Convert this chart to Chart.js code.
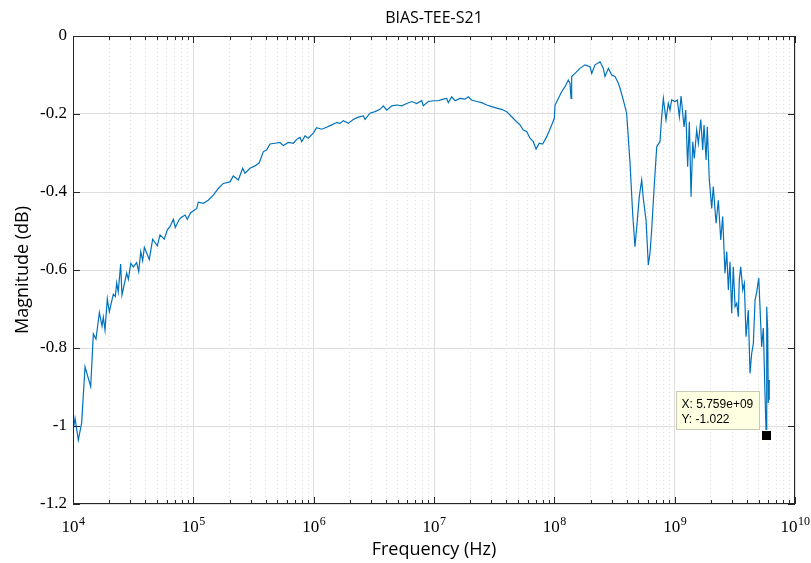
<!DOCTYPE html>
<html>
<head>
<meta charset="utf-8">
<script src="https://cdn.jsdelivr.net/npm/chart.js@4.4.1/dist/chart.umd.min.js"></script>
<style>
  body { margin: 0; background: #fff; }
  #chart { display: block; }
</style>
</head>
<body>
<canvas id="chart" width="811" height="563"></canvas>
<script>
// frequency (Hz) and |S21| (dB)
var freqHz = [
  1.005e4, 1.04e4, 1.107e4, 1.18e4, 1.259e4, 1.403e4, 1.476e4, 1.552e4, 1.656e4, 1.742e4,
  1.786e4, 1.845e4, 1.928e4, 2.004e4, 2.163e4, 2.249e4, 2.307e4, 2.377e4, 2.489e4, 2.553e4,
  2.793e4, 2.884e4, 3.02e4, 3.17e4, 3.381e4, 3.516e4, 3.656e4, 3.793e4, 3.917e4, 4.305e4,
  4.592e4, 5.023e4, 5.284e4, 5.741e4, 6.081e4, 6.397e4, 6.823e4, 7.079e4, 7.638e4, 7.998e4,
  8.531e4, 8.913e4, 9.506e4, 1.067e5, 1.099e5, 1.211e5, 1.33e5, 1.466e5, 1.614e5, 1.774e5,
  2.018e5, 2.148e5, 2.366e5, 2.57e5, 2.685e5, 2.958e5, 3.251e5, 3.532e5, 3.811e5, 4.074e5,
  4.335e5, 4.775e5, 5.248e5, 5.598e5, 6.152e5, 6.776e5, 7.228e5, 7.691e5, 7.962e5, 8.472e5,
  9.016e5, 9.931e5, 1.059e6, 1.167e6, 1.282e6, 1.413e6, 1.552e6, 1.656e6, 1.762e6, 1.941e6,
  2.133e6, 2.35e6, 2.588e6, 2.673e6, 2.938e6, 3.236e6, 3.556e6, 3.793e6, 4.046e6, 4.457e6,
  4.898e6, 5.395e6, 5.929e6, 6.531e6, 7.178e6, 7.907e6, 8.147e6, 8.974e6, 9.863e6, 1.086e7,
  1.194e7, 1.276e7, 1.315e7, 1.403e7, 1.496e7, 1.644e7, 1.811e7, 1.928e7, 2.056e7, 2.265e7,
  2.489e7, 2.742e7, 3.02e7, 3.319e7, 3.656e7, 4.018e7, 4.426e7, 4.864e7, 5.188e7, 5.521e7,
  5.888e7, 6.281e7, 6.683e7, 7.047e7, 7.499e7, 7.998e7, 8.65e7, 9.506e7, 1.0e8, 1.014e8,
  1.079e8, 1.151e8, 1.227e8, 1.306e8, 1.349e8, 1.377e8, 1.393e8, 1.486e8, 1.633e8, 1.799e8,
  1.982e8, 2.046e8, 2.178e8, 2.399e8, 2.553e8, 2.636e8, 2.812e8, 2.999e8, 3.192e8, 3.404e8,
  3.516e8, 3.741e8, 3.99e8, 4.256e8, 4.477e8, 4.677e8, 4.842e8, 5.082e8, 5.321e8, 5.483e8,
  5.781e8, 6.039e8, 6.237e8, 6.442e8, 6.73e8, 7.096e8, 7.551e8, 7.798e8, 8.054e8, 8.472e8,
  8.851e8, 9.141e8, 9.441e8, 1.007e9, 1.052e9, 1.094e9, 1.13e9, 1.197e9, 1.236e9, 1.282e9,
  1.324e9, 1.368e9, 1.413e9, 1.455e9, 1.524e9, 1.574e9, 1.648e9, 1.71e9, 1.754e9, 1.824e9,
  1.866e9, 1.941e9, 2.032e9, 2.094e9, 2.208e9, 2.307e9, 2.415e9, 2.506e9, 2.618e9, 2.71e9,
  2.793e9, 2.884e9, 2.979e9, 3.069e9, 3.177e9, 3.281e9, 3.381e9, 3.443e9, 3.54e9, 3.681e9,
  3.793e9, 3.917e9, 4.093e9, 4.227e9, 4.365e9, 4.508e9, 4.656e9, 4.808e9, 5.0e9, 5.117e9,
  5.284e9, 5.458e9, 5.61e9, 5.759e9, 5.821e9, 5.929e9, 5.998e9, 6.081e9, 6.109e9
]

var magDb = [
  -1.010, -0.980, -1.036, -0.992, -0.848, -0.899, -0.764, -0.777, -0.709, -0.744,
  -0.721, -0.754, -0.674, -0.707, -0.662, -0.668, -0.633, -0.656, -0.585, -0.664,
  -0.608, -0.624, -0.583, -0.592, -0.581, -0.604, -0.553, -0.576, -0.542, -0.573,
  -0.521, -0.538, -0.510, -0.521, -0.497, -0.489, -0.470, -0.491, -0.470, -0.465,
  -0.459, -0.470, -0.453, -0.442, -0.426, -0.429, -0.421, -0.408, -0.391, -0.378,
  -0.374, -0.359, -0.369, -0.339, -0.352, -0.339, -0.333, -0.325, -0.297, -0.292,
  -0.277, -0.275, -0.273, -0.281, -0.273, -0.275, -0.265, -0.260, -0.271, -0.256,
  -0.262, -0.249, -0.235, -0.239, -0.234, -0.228, -0.222, -0.224, -0.217, -0.224,
  -0.214, -0.208, -0.205, -0.214, -0.198, -0.194, -0.188, -0.179, -0.190, -0.179,
  -0.177, -0.179, -0.173, -0.168, -0.173, -0.166, -0.179, -0.168, -0.166, -0.166,
  -0.162, -0.160, -0.171, -0.156, -0.166, -0.160, -0.162, -0.156, -0.164, -0.168,
  -0.171, -0.177, -0.181, -0.185, -0.188, -0.194, -0.207, -0.220, -0.228, -0.241,
  -0.245, -0.262, -0.271, -0.290, -0.275, -0.277, -0.258, -0.228, -0.211, -0.177,
  -0.160, -0.143, -0.130, -0.113, -0.121, -0.160, -0.104, -0.096, -0.083, -0.074,
  -0.079, -0.096, -0.074, -0.066, -0.083, -0.104, -0.083, -0.100, -0.104, -0.121,
  -0.134, -0.164, -0.198, -0.326, -0.455, -0.540, -0.489, -0.412, -0.369, -0.416,
  -0.472, -0.587, -0.557, -0.497, -0.395, -0.284, -0.271, -0.207, -0.160, -0.215,
  -0.173, -0.190, -0.164, -0.168, -0.164, -0.207, -0.154, -0.233, -0.190, -0.335,
  -0.220, -0.412, -0.271, -0.314, -0.241, -0.275, -0.214, -0.292, -0.228, -0.318,
  -0.233, -0.369, -0.442, -0.386, -0.480, -0.421, -0.523, -0.463, -0.608, -0.553,
  -0.651, -0.579, -0.711, -0.592, -0.694, -0.685, -0.720, -0.626, -0.592, -0.651,
  -0.634, -0.771, -0.703, -0.865, -0.814, -0.788, -0.677, -0.656, -0.621, -0.694,
  -0.797, -0.749, -0.899, -1.022, -0.694, -0.754, -0.941, -0.882, -0.933
]

var xMajorTicks = [1e4, 1e5, 1e6, 1e7, 1e8, 1e9, 1e10]
var xTickBase = '10'
var xTickExp = ['4', '5', '6', '7', '8', '9', '10']
var yTicks = [0, -0.2, -0.4, -0.6, -0.8, -1, -1.2]
var yTickLabels = ['0', '-0.2', '-0.4', '-0.6', '-0.8', '-1', '-1.2']
var titleText = 'BIAS-TEE-S21'

// data tip
var tipX = 5.759e9
var tipY = -1.022
var tipLines = ['X: 5.759e+09', 'Y: -1.022']

var xMinorTicks = []
for (var d = 0; d < xMajorTicks.length - 1; d++) {
    for (var m = 2; m <= 9; m++) xMinorTicks.push(xMajorTicks[d] * m)
}

var points = []
for (var i = 0; i < freqHz.length; i++) {
    points.push({x: freqHz[i], y: magDb[i]})
}

var axisColor = '#262626'
var serif = '"Liberation Serif", "DejaVu Serif", serif'
var sans = '"Open Sans", "Noto Sans", sans-serif'

// MATLAB look: inward ticks, box, 10^n labels, title over the axes, data tip
var matlabAxes = {
    id: 'matlabAxes',
    afterDraw: function(chart) {
        var ctx = chart.ctx
        var a = chart.chartArea
        var xs = chart.scales.x
        var ys = chart.scales.y
        ctx.save()
        ctx.strokeStyle = axisColor
        ctx.lineWidth = 1
        ctx.beginPath()
        xMajorTicks.forEach(function(v) {
            var px = Math.round(xs.getPixelForValue(v)) + 0.5
            ctx.moveTo(px, a.bottom); ctx.lineTo(px, a.bottom - 7)
            ctx.moveTo(px, a.top); ctx.lineTo(px, a.top + 7)
        })
        xMinorTicks.forEach(function(v) {
            var px = Math.round(xs.getPixelForValue(v)) + 0.5
            ctx.moveTo(px, a.bottom); ctx.lineTo(px, a.bottom - 4)
            ctx.moveTo(px, a.top); ctx.lineTo(px, a.top + 4)
        })
        yTicks.forEach(function(v) {
            var py = Math.round(ys.getPixelForValue(v)) + 0.5
            ctx.moveTo(a.left, py); ctx.lineTo(a.left + 7, py)
            ctx.moveTo(a.right, py); ctx.lineTo(a.right - 7, py)
        })
        ctx.stroke()
        ctx.strokeRect(Math.round(a.left) + 0.5, Math.round(a.top) + 0.5,
                       Math.round(a.width) - 1, Math.round(a.height) - 1)

        // x tick labels 10^n
        ctx.fillStyle = '#000'
        ctx.textBaseline = 'alphabetic'
        ctx.textAlign = 'left'
        xMajorTicks.forEach(function(v, k) {
            var px = xs.getPixelForValue(v)
            ctx.font = '17px ' + serif
            var wb = ctx.measureText(xTickBase).width
            ctx.font = '12px ' + serif
            var we = ctx.measureText(xTickExp[k]).width
            var x0 = px - (wb + we) / 2
            ctx.font = '17px ' + serif
            ctx.fillText(xTickBase, x0, a.bottom + 28)
            ctx.font = '12px ' + serif
            ctx.fillText(xTickExp[k], x0 + wb + 0.5, a.bottom + 21)
        })

        // title centred over the axes
        ctx.font = '16px ' + sans
        ctx.textAlign = 'center'
        ctx.fillText(titleText, (a.left + a.right) / 2, 23)

        // data tip
        ctx.textAlign = 'left'
        var mx = xs.getPixelForValue(tipX)
        var my = ys.getPixelForValue(tipY)
        var bw = 83, bh = 38
        var bx = Math.round(mx - 7 - bw) + 0.5
        var by = Math.round(my - 6 - bh) + 0.5
        ctx.fillStyle = '#ffffe1'
        ctx.fillRect(bx, by, bw, bh)
        ctx.strokeStyle = '#c8c8b4'
        ctx.strokeRect(bx, by, bw, bh)
        ctx.fillStyle = '#000'
        ctx.font = '12px "Liberation Sans", Arial, sans-serif'
        ctx.fillText(tipLines[0], bx + 5, by + 16)
        ctx.fillText(tipLines[1], bx + 5, by + 31)
        ctx.fillRect(Math.round(mx) - 4, Math.round(my) - 4, 9, 9)
        ctx.strokeStyle = '#fffff0'
        ctx.strokeRect(Math.round(mx) - 4.5, Math.round(my) - 4.5, 10, 10)
        ctx.restore()
    }
}

var myChart = new Chart(document.getElementById('chart'), {
    type: 'line',
    data: {
        datasets: [{
            label: 'S21',
            data: points,
            borderColor: '#0072BD',
            borderWidth: 1.2,
            pointRadius: 0,
            tension: 0,
            fill: false,
            xAxisID: 'x',
            yAxisID: 'y'
        }]
    },
    options: {
        responsive: false,
        animation: false,
        devicePixelRatio: 1,
        layout: { padding: { top: 36, right: 16, bottom: 0, left: 0 } },
        plugins: {
            legend: { display: false },
            tooltip: { enabled: false },
            title: { display: false }
        },
        scales: {
            xm: {
                type: 'logarithmic',
                position: 'bottom',
                min: 1e4,
                max: 1e10,
                afterBuildTicks: function(scale) {
                    scale.ticks = xMinorTicks.map(function(v) { return {value: v} })
                },
                afterFit: function(scale) { scale.height = 0 },
                ticks: { display: false },
                border: { display: false, dash: [1, 3] },
                grid: { color: '#dcdcdc', lineWidth: 1, drawTicks: false }
            },
            x: {
                type: 'logarithmic',
                position: 'bottom',
                min: 1e4,
                max: 1e10,
                afterBuildTicks: function(scale) {
                    scale.ticks = xMajorTicks.map(function(v) { return {value: v} })
                },
                afterFit: function(scale) { scale.height = 59 },
                ticks: { display: false },
                border: { display: false },
                grid: { color: '#dedede', lineWidth: 1, drawTicks: false },
                title: {
                    display: true,
                    text: 'Frequency (Hz)',
                    color: '#000',
                    font: { family: sans, size: 18 },
                    padding: { top: 0, bottom: 2 }
                }
            },
            y: {
                type: 'linear',
                min: -1.2,
                max: 0,
                afterBuildTicks: function(scale) {
                    scale.ticks = yTicks.map(function(v) { return {value: v} })
                },
                afterFit: function(scale) { scale.width = 73 },
                ticks: {
                    padding: 6,
                    color: '#000',
                    font: { family: serif, size: 17 },
                    callback: function(value, index) { return yTickLabels[index] }
                },
                border: { display: false },
                grid: { color: '#dedede', lineWidth: 1, drawTicks: false },
                title: {
                    display: true,
                    text: 'Magnitude (dB)',
                    color: '#000',
                    font: { family: sans, size: 18 },
                    padding: { top: 12, bottom: 0 }
                }
            }
        }
    },
    plugins: [matlabAxes]
});
</script>
</body>
</html>
